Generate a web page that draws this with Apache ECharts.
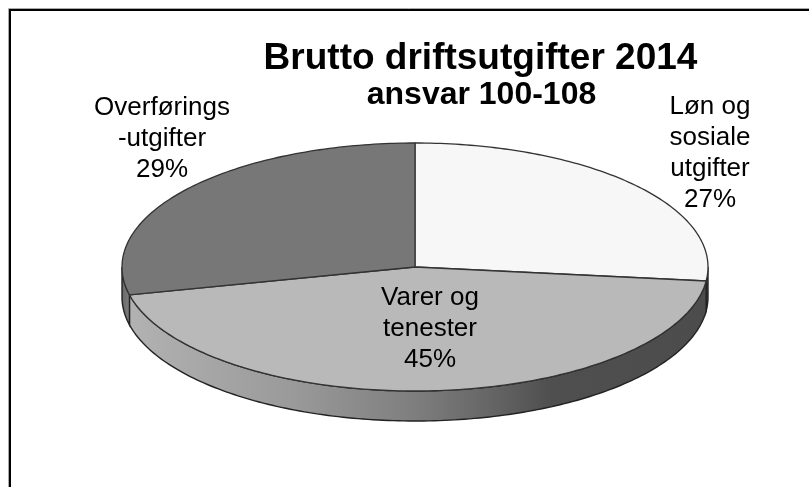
<!DOCTYPE html>
<html>
<head>
<meta charset="utf-8">
<style>html,body{margin:0;padding:0;background:#fff}#c{width:809px;height:487px}</style>
<script src="https://cdn.jsdelivr.net/npm/echarts@6/dist/echarts.min.js"></script>
</head>
<body>
<div id="c"></div>
<script>
const titleMain = 'Brutto driftsutgifter 2014';
const titleSub = 'ansvar 100-108';
const categories = ['Løn og\nsosiale\nutgifter', 'Varer og\ntenester', 'Overførings\n-utgifter'];
const shares = [26.8, 44.6, 28.6];
const sliceColors = ['#f7f7f7', '#b9b9b9', '#777777'];

const geo = { cx: 415, cy: 267, rx: 293, ry: 124, depth: 30 };
const labelPlaces = [[710, 153], [430, 329], [162, 139]];
const sideStops = [
  { offset: 0, color: '#686868' }, { offset: 0.012, color: '#7c7c7c' },
  { offset: 0.0121, color: '#b2b2b2' }, { offset: 0.29, color: '#9a9a9a' },
  { offset: 0.5, color: '#7e7e7e' }, { offset: 0.63, color: '#656565' },
  { offset: 0.73, color: '#4f4f4f' }, { offset: 1, color: '#4c4c4c' }
];
const total = shares.reduce((a, b) => a + b, 0);

function pt(deg, dy) {
  const a = deg * Math.PI / 180;
  return [geo.cx + geo.rx * Math.sin(a), geo.cy - geo.ry * Math.cos(a) + (dy || 0)];
}
function arc(from, to, dy) {
  const out = [], n = Math.max(2, Math.ceil(Math.abs(to - from)));
  for (let i = 0; i <= n; i++) out.push(pt(from + (to - from) * i / n, dy));
  return out;
}
function renderSlice(params, api) {
  const i = params.dataIndex;
  let before = 0;
  for (let k = 0; k < i; k++) before += shares[k];
  const start = before / total * 360;
  const end = start + api.value(0) / total * 360;
  const children = [];
  const s0 = Math.max(start, 90), s1 = Math.min(end, 270);
  if (s1 > s0) {
    const pts = arc(s0, s1, 0).concat(arc(s1, s0, geo.depth));
    children.push({
      type: 'polygon', z2: 1, shape: { points: pts },
      style: {
        fill: { type: 'linear', x: geo.cx - geo.rx, y: 0, x2: geo.cx + geo.rx, y2: 0, global: true, colorStops: sideStops },
        stroke: '#222222', lineWidth: 1.4
      }
    });
  }
  children.push({
    type: 'polygon', z2: 2, shape: { points: [[geo.cx, geo.cy]].concat(arc(start, end, 0)) },
    style: { fill: sliceColors[i], stroke: '#333333', lineWidth: 1.3, lineJoin: 'round' }
  });
  children.push({
    type: 'text', z2: 10,
    style: {
      x: labelPlaces[i][0], y: labelPlaces[i][1],
      text: categories[i] + '\n' + Math.round(api.value(0) / total * 100) + '%',
      font: '26px "Liberation Sans", Arial, sans-serif', lineHeight: 31,
      fill: '#000', align: 'center', verticalAlign: 'middle'
    }
  });
  return { type: 'group', children };
}

const chart = echarts.init(document.getElementById('c'), null, { renderer: 'canvas' });
chart.setOption({
  animation: false,
  backgroundColor: '#fff',
  title: [
    { text: titleMain, left: 475.5, top: 35, textAlign: 'center',
      textStyle: { fontFamily: '"Liberation Sans", Arial, sans-serif', fontWeight: 'bold', fontSize: 37, color: '#000' } },
    { text: titleSub, left: 476.5, top: 74, textAlign: 'center',
      textStyle: { fontFamily: '"Liberation Sans", Arial, sans-serif', fontWeight: 'bold', fontSize: 32, color: '#000' } }
  ],
  graphic: [
    { type: 'polyline', silent: true, z: 0, shape: { points: [[8.5, 487], [8.5, 8.5], [809, 8.5]] }, style: { fill: null, stroke: '#aaaaaa', lineWidth: 1 } },
    { type: 'polyline', silent: true, z: 1, shape: { points: [[10, 487], [10, 10], [809, 10]] }, style: { fill: null, stroke: '#000', lineWidth: 2 } }
  ],
  series: [{
    type: 'custom',
    coordinateSystem: 'none',
    silent: true,
    renderItem: renderSlice,
    data: shares.map(v => [v])
  }]
});
</script>
</body>
</html>
